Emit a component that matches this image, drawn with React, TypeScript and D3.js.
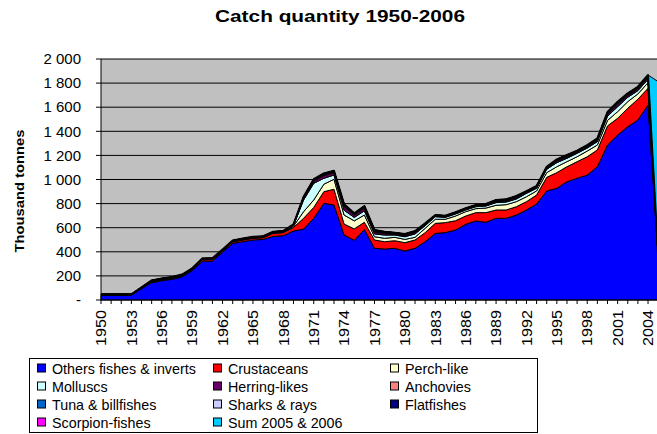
import React from "react";
import * as d3 from "d3";

// Catch by species group, thousand tonnes, 1950-2006
const years = d3.range(1950, 2007);

const others = [
  40, 40, 40, 40, 95,
  144, 160, 172, 192, 244,
  322, 324, 398, 470, 484,
  498, 503, 528, 534, 572,
  589, 678, 802, 788, 540,
  495, 585, 429, 423, 429,
  407, 429, 484, 553, 559,
  581, 628, 656, 645, 678,
  678, 705, 747, 797, 905,
  927, 982, 1010, 1037, 1106,
  1286, 1369, 1438, 1494, 1618,
  360, 350,
];
const crustaceans = [
  2, 2, 2, 2, 4,
  8, 8, 8, 8, 8,
  12, 12, 10, 12, 14,
  14, 14, 25, 25, 30,
  89, 90, 97, 131, 90,
  95, 60, 69, 61, 63,
  69, 69, 75, 83, 83,
  77, 69, 69, 80, 69,
  69, 69, 69, 74, 113,
  130, 124, 138, 152, 139,
  159, 139, 153, 172, 139,
  0, 0,
];
const perchLike = [
  1, 1, 1, 1, 1,
  2, 2, 2, 2, 2,
  2, 2, 2, 3, 3,
  3, 3, 4, 4, 10,
  55, 62, 62, 83, 75,
  67, 60, 27, 28, 28,
  27, 22, 36, 34, 28,
  39, 36, 33, 38, 39,
  44, 42, 41, 34, 39,
  49, 42, 41, 47, 41,
  45, 55, 55, 44, 46,
  0, 0,
];
const molluscs = [
  0, 0, 0, 0, 0,
  1, 1, 1, 1, 1,
  1, 1, 1, 1, 1,
  1, 1, 1, 1, 5,
  97, 138, 49, 35, 40,
  28, 35, 23, 27, 19,
  22, 28, 22, 21, 16,
  17, 14, 16, 17, 22,
  22, 22, 28, 22, 28,
  34, 28, 28, 25, 28,
  35, 41, 36, 27, 28,
  0, 0,
];
const herringLikes = [
  2, 2, 2, 2, 3,
  4, 4, 4, 4, 4,
  4, 4, 4, 4, 4,
  4, 4, 4, 4, 4,
  12, 18, 22, 20, 30,
  18, 22, 15, 12, 8,
  9, 10, 7, 5, 5,
  5, 5, 5, 6, 8,
  9, 10, 7, 7, 8,
  10, 10, 8, 10, 11,
  14, 17, 13, 13, 14,
  0, 0,
];
const anchovies = [
  0, 0, 0, 0, 0,
  1, 1, 1, 1, 1,
  1, 1, 1, 1, 1,
  1, 1, 1, 1, 2,
  4, 6, 6, 5, 6,
  5, 6, 6, 6, 4,
  5, 5, 4, 3, 3,
  3, 3, 3, 4, 5,
  5, 5, 4, 4, 4,
  6, 6, 5, 5, 6,
  7, 8, 7, 7, 7,
  0, 0,
];
const tuna = [
  1, 1, 1, 1, 1,
  1, 1, 1, 1, 1,
  1, 1, 1, 1, 1,
  1, 1, 2, 2, 2,
  4, 4, 5, 5, 6,
  5, 5, 5, 4, 4,
  4, 4, 4, 3, 3,
  3, 3, 3, 3, 4,
  4, 5, 3, 4, 4,
  5, 5, 4, 5, 5,
  6, 7, 6, 6, 7,
  0, 0,
];
const sharks = [
  1, 1, 1, 1, 1,
  1, 1, 1, 1, 1,
  1, 1, 1, 1, 1,
  1, 1, 1, 1, 1,
  3, 3, 4, 3, 4,
  3, 4, 4, 3, 2,
  3, 3, 2, 2, 2,
  2, 2, 2, 2, 3,
  3, 3, 2, 2, 3,
  3, 3, 3, 3, 3,
  4, 5, 4, 4, 4,
  0, 0,
];
const flatfishes = [
  1, 1, 1, 1, 1,
  1, 1, 1, 1, 1,
  1, 1, 1, 1, 1,
  1, 1, 1, 1, 1,
  2, 2, 2, 2, 2,
  2, 2, 2, 2, 1,
  1, 1, 1, 1, 1,
  1, 1, 1, 1, 1,
  1, 1, 1, 1, 1,
  2, 2, 1, 1, 2,
  2, 3, 2, 2, 2,
  0, 0,
];
const scorpionFishes = [
  0, 0, 0, 0, 0,
  0, 0, 0, 0, 0,
  0, 0, 0, 0, 0,
  0, 0, 0, 0, 0,
  2, 2, 2, 1, 2,
  1, 1, 1, 1, 1,
  1, 1, 1, 0, 0,
  0, 0, 0, 1, 1,
  1, 1, 1, 1, 1,
  1, 1, 1, 1, 1,
  2, 2, 1, 1, 2,
  0, 0,
];
const sum2005and2006 = [
  0, 0, 0, 0, 0,
  0, 0, 0, 0, 0,
  0, 0, 0, 0, 0,
  0, 0, 0, 0, 0,
  0, 0, 0, 0, 0,
  0, 0, 0, 0, 0,
  0, 0, 0, 0, 0,
  0, 0, 0, 0, 0,
  0, 0, 0, 0, 0,
  0, 0, 0, 0, 0,
  0, 0, 0, 0, 0,
  1452, 1450,
];

const seriesNames = [
  "Others fishes & inverts",
  "Crustaceans",
  "Perch-like",
  "Molluscs",
  "Herring-likes",
  "Anchovies",
  "Tuna & billfishes",
  "Sharks & rays",
  "Flatfishes",
  "Scorpion-fishes",
  "Sum 2005 & 2006",
];
const seriesValues = [
  others, crustaceans, perchLike, molluscs, herringLikes, anchovies,
  tuna, sharks, flatfishes, scorpionFishes, sum2005and2006,
];
const seriesColors = [
  "#0000FF", "#FF0000", "#FFFFCC", "#CCFFFF", "#660066", "#FF8080",
  "#0066CC", "#CCCCFF", "#000080", "#FF00FF", "#00CCFF",
];

const yTickValues = [0, 200, 400, 600, 800, 1000, 1200, 1400, 1600, 1800, 2000];
const yTickLabels = ["-", "200", "400", "600", "800", "1 000", "1 200", "1 400", "1 600", "1 800", "2 000"];
const xLabelYears = [1950, 1953, 1956, 1959, 1962, 1965, 1968, 1971, 1974, 1977, 1980, 1983, 1986, 1989, 1992, 1995, 1998, 2001, 2004];

const W = 657;
const H = 434;
const FONT = "'Liberation Sans', Arial, sans-serif";

export default function App() {
  const plot = { left: 101, top: 59, bottom: 300 };
  const x = d3.scaleLinear().domain([1950, 2006]).range([plot.left, plot.left + 56 * 10.13]);
  const y = d3.scaleLinear().domain([0, 2000]).range([plot.bottom, plot.top]);

  const rows = years.map((yr, i) => {
    const r: Record<string, number> = { year: yr };
    seriesNames.forEach((n, k) => (r[n] = seriesValues[k][i]));
    return r;
  });
  const stacked = d3.stack<Record<string, number>>().keys(seriesNames)(rows);
  const area = d3
    .area<d3.SeriesPoint<Record<string, number>>>()
    .x((d) => x(d.data.year))
    .y0((d) => y(d[0]))
    .y1((d) => y(d[1]));

  // outline of the stack below the 2005-2006 sum
  const lastDetailed = stacked[stacked.length - 2];
  const topLine = d3
    .line<d3.SeriesPoint<Record<string, number>>>()
    .x((d) => x(d.data.year))
    .y((d) => y(d[1]));

  const plotRight = x(2006);

  // legend layout
  const legend = { x: 29, y: 358, w: 508, h: 75 };
  const colX = [37, 213, 390];
  const rowY = [368.5, 386.5, 404.5, 422.5];

  return (
    <svg
      width={W}
      height={H}
      style={{ position: "absolute", left: 0, top: 0, background: "#fff" }}
      fontFamily={FONT}
    >
      <text x={340} y={22} textAnchor="middle" fontWeight="bold" fontSize={17} textLength={250} lengthAdjust="spacingAndGlyphs">
        Catch quantity 1950-2006
      </text>

      <rect x={plot.left} y={plot.top} width={plotRight - plot.left} height={plot.bottom - plot.top} fill="#C0C0C0" />
      {yTickValues.slice(1).map((v) => (
        <line key={v} x1={plot.left} x2={plotRight} y1={y(v)} y2={y(v)} stroke="#000" strokeWidth={1} />
      ))}

      {stacked.map((s, k) => (
        <path key={s.key} d={area(s) || ""} fill={seriesColors[k]} stroke="#000" strokeWidth={1} strokeLinejoin="round" />
      ))}
      <path d={topLine(lastDetailed) || ""} fill="none" stroke="#000" strokeWidth={2} strokeLinejoin="round" />

      {/* axes */}
      <line x1={plot.left} x2={plot.left} y1={plot.top} y2={plot.bottom} stroke="#000" />
      <line x1={plot.left} x2={plotRight} y1={plot.bottom} y2={plot.bottom} stroke="#000" />
      {yTickValues.map((v, i) => (
        <g key={v}>
          <line x1={plot.left - 5} x2={plot.left} y1={y(v)} y2={y(v)} stroke="#000" />
          <text x={81} y={y(v)} dy="0.35em" textAnchor="end" fontSize={15}>
            {yTickLabels[i]}
          </text>
        </g>
      ))}
      {years.map((yr) => (
        <line key={yr} x1={x(yr)} x2={x(yr)} y1={plot.bottom} y2={plot.bottom + 4} stroke="#000" />
      ))}
      {xLabelYears.map((yr) => (
        <text
          key={yr}
          transform={`translate(${x(yr)},310) rotate(-90)`}
          textAnchor="end"
          dy="0.35em"
          fontSize={15}
          textLength={36}
          lengthAdjust="spacingAndGlyphs"
        >
          {yr}
        </text>
      ))}
      <text
        transform={`translate(19,191) rotate(-90)`}
        textAnchor="middle"
        dy="0.35em"
        fontWeight="bold"
        fontSize={13}
        textLength={123}
        lengthAdjust="spacingAndGlyphs"
      >
        Thousand tonnes
      </text>

      {/* legend */}
      <rect x={legend.x + 0.5} y={legend.y + 0.5} width={legend.w} height={legend.h - 1} fill="#fff" stroke="#000" />
      {seriesNames.map((n, k) => {
        const cx = colX[k % 3];
        const cy = rowY[Math.floor(k / 3)];
        return (
          <g key={n}>
            <rect x={cx + 0.5} y={cy - 4.5} width={8} height={8} fill={seriesColors[k]} stroke="#000" />
            <text x={cx + 15} y={cy} dy="0.35em" fontSize={14.3}>
              {n}
            </text>
          </g>
        );
      })}
    </svg>
  );
}
